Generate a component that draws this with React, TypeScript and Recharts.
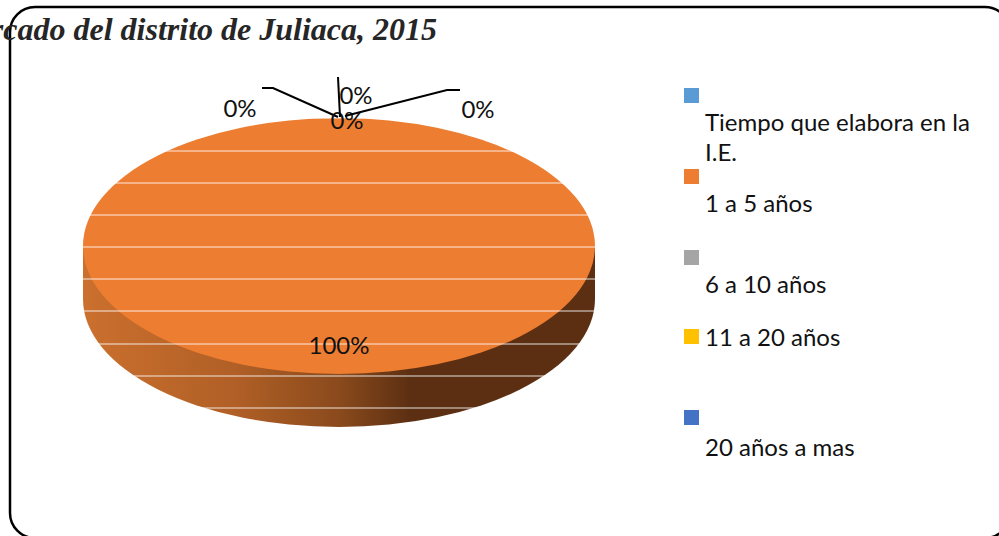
import { Legend, Pie, PieChart } from "recharts";

const categories = [
  "Tiempo que elabora en la I.E.",
  "1 a 5 años",
  "6 a 10 años",
  "11 a 20 años",
  "20 años a mas",
];
const values = [0, 100, 0, 0, 0];
const percentLabels = ["0%", "100%", "0%", "0%", "0%"];
const colors = ["#5B9BD5", "#ED7D31", "#A5A5A5", "#FFC000", "#4472C4"];

// white bands that run across the pasted picture of the pie
const bandRows = [118, 151, 183, 215, 247, 279, 311, 344, 376, 408];

const data = categories.map((name, i) => ({
  name,
  value: values[i],
  fill: colors[i],
}));

const SQUASH = 0.5;
const DEPTH = 53;

// label offset from the slice's rim point
const labelOffsets = [
  [-99, -1],
  [0, -20],
  [8, 11],
  [17, -14],
  [139, 0],
];

// leader lines, relative to the top of the pie
const leaderPaths: Record<number, number[][]> = {
  0: [[-1, -1], [-66, -30], [-77, -30]],
  3: [[1, -1], [-1, -41]],
  4: [[6, -2], [108, -28], [121, -28]],
};

function rimPoint(cx: number, cy: number, r: number, midAngle: number) {
  const rad = (midAngle * Math.PI) / 180;
  return {
    x: cx + r * Math.cos(rad),
    y: cy - r * SQUASH * Math.sin(rad),
  };
}

function TopFace(props: any) {
  const { cx, cy, outerRadius, startAngle, endAngle, fill } = props;
  if (Math.abs(startAngle - endAngle) < 1) return <g />;
  return (
    <g>
      <ellipse
        cx={cx}
        cy={cy}
        rx={outerRadius}
        ry={outerRadius * SQUASH}
        fill={fill}
      />
      {bandRows.map((y) => (
        <line
          key={y}
          x1={cx - outerRadius}
          x2={cx + outerRadius}
          y1={y}
          y2={y}
          stroke="#fff"
          strokeOpacity={0.85}
          strokeWidth={1}
        />
      ))}
    </g>
  );
}

function SideWall(props: any) {
  const { cx, cy, outerRadius, startAngle, endAngle } = props;
  if (Math.abs(startAngle - endAngle) < 1) return <g />;
  const rx = outerRadius;
  const ry = outerRadius * SQUASH;
  const d = [
    `M${cx - rx},${cy}`,
    `L${cx - rx},${cy + DEPTH}`,
    `A${rx},${ry} 0 0 0 ${cx + rx},${cy + DEPTH}`,
    `L${cx + rx},${cy}`,
    "Z",
  ].join(" ");
  return <path d={d} fill="url(#sideShade)" />;
}

function PercentLabel(props: any) {
  const { cx, cy, outerRadius, midAngle, index } = props;
  const p = rimPoint(cx, cy, outerRadius, midAngle);
  const [dx, dy] = labelOffsets[index];
  return (
    <text
      x={p.x + dx}
      y={p.y + dy}
      textAnchor="middle"
      fontFamily="Lato"
      fontSize={24}
      fill="#111"
    >
      {percentLabels[index]}
    </text>
  );
}

function LeaderLine(props: any) {
  const { cx, cy, outerRadius, midAngle, index } = props;
  const path = leaderPaths[index];
  if (!path) return <g />;
  const p = rimPoint(cx, cy, outerRadius, midAngle);
  return (
    <polyline
      points={path.map(([x, y]) => `${p.x + x},${p.y + y}`).join(" ")}
      fill="none"
      stroke="#000"
      strokeWidth={2}
    />
  );
}

// row layout of the legend: swatch on its own line except "11 a 20 años"
const legendTops = [0, 81, 162, 241, 322];
const legendTextTops = [19, 19, 19, -7, 22];

function ChartLegend({ payload }: any) {
  // every Pie reports its entries, keep one of each in category order
  const items = categories.map((name) =>
    (payload || []).find((entry: any) => entry.value === name),
  );
  return (
    <div style={{ position: "relative", width: 300, height: 380 }}>
      {items.map((entry: any, i: number) => (
        <div
          key={categories[i]}
          style={{ position: "absolute", left: 0, top: legendTops[i], width: 300 }}
        >
          <div
            style={{ width: 15, height: 15, background: entry?.color ?? colors[i] }}
          />
          <div
            style={{
              position: "absolute",
              left: 21,
              top: legendTextTops[i],
              width: 280,
              fontFamily: "Lato",
              fontSize: 24,
              lineHeight: "30px",
              color: "#111",
            }}
          >
            {categories[i]}
          </div>
        </div>
      ))}
    </div>
  );
}

export default function App() {
  return (
    <div style={{ position: "absolute", left: 0, top: 0, width: 999, height: 536 }}>
      <PieChart
        width={999}
        height={536}
        margin={{ top: 0, right: 0, bottom: 0, left: 0 }}
      >
        <defs>
          <linearGradient id="sideShade" x1="0" y1="0" x2="1" y2="0">
            <stop offset="0%" stopColor="#CB702E" />
            <stop offset="30%" stopColor="#B05F26" />
            <stop offset="50%" stopColor="#8A4A1C" />
            <stop offset="64%" stopColor="#5C2F12" />
            <stop offset="100%" stopColor="#5C2F12" />
          </linearGradient>
        </defs>
        <rect
          x={10}
          y={7}
          width={1000}
          height={531}
          rx={25}
          fill="none"
          stroke="#000"
          strokeWidth={2.5}
        />
        <text
          x={437}
          y={40}
          textAnchor="end"
          fontFamily="Liberation Serif"
          fontStyle="italic"
          fontWeight="bold"
          fontSize={32}
          fill="#262626"
        >
          mercado del distrito de Juliaca, 2015
        </text>
        <Pie
          data={data}
          dataKey="value"
          nameKey="name"
          cx={339}
          cy={246}
          outerRadius={256}
          startAngle={90}
          endAngle={-270}
          stroke="none"
          legendType="none"
          shape={SideWall}
          isAnimationActive={false}
        />
        <Pie
          data={data}
          dataKey="value"
          nameKey="name"
          cx={339}
          cy={246}
          outerRadius={256}
          startAngle={90}
          endAngle={-270}
          stroke="none"
          shape={TopFace}
          isAnimationActive={false}
        />
        <Pie
          data={data}
          dataKey="value"
          nameKey="name"
          cx={339}
          cy={246}
          outerRadius={256}
          startAngle={90}
          endAngle={-270}
          stroke="none"
          legendType="none"
          shape={() => <g />}
          label={PercentLabel}
          labelLine={LeaderLine}
          isAnimationActive={false}
        />
        <Legend
          layout="vertical"
          align="right"
          verticalAlign="top"
          content={ChartLegend}
          wrapperStyle={{ left: 684, top: 88, width: 300 }}
        />
      </PieChart>
    </div>
  );
}
